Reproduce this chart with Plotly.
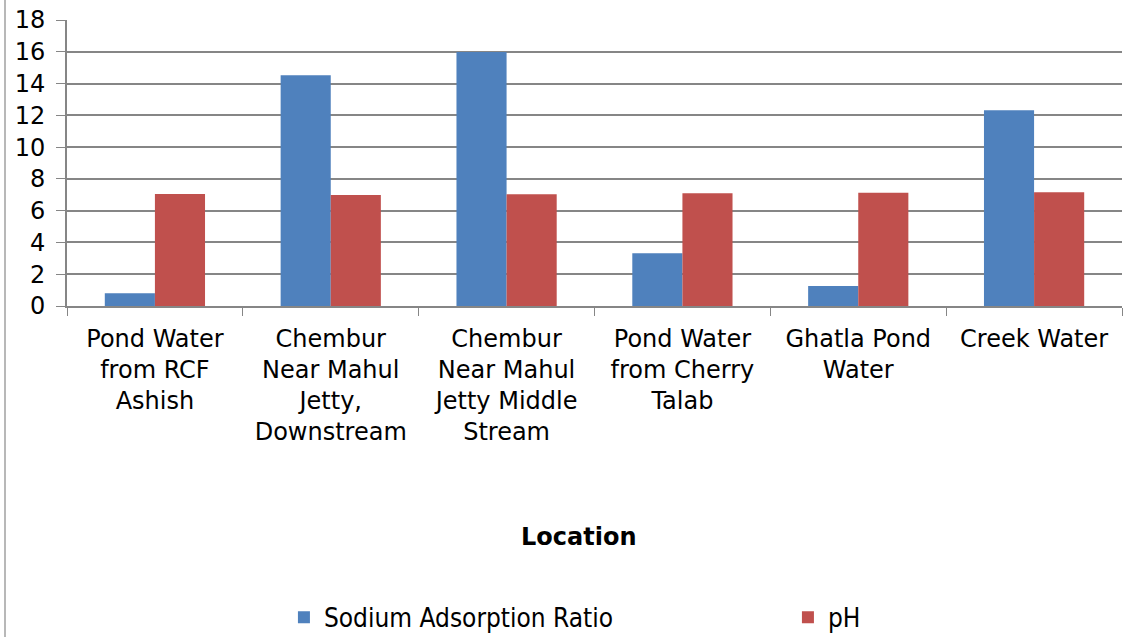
import plotly.graph_objects as go

categories = [
    "Pond Water<br>from RCF<br>Ashish",
    "Chembur<br>Near Mahul<br>Jetty,<br>Downstream",
    "Chembur<br>Near Mahul<br>Jetty Middle<br>Stream",
    "Pond Water<br>from Cherry<br>Talab",
    "Ghatla Pond<br>Water",
    "Creek Water",
]
sar_values = [0.8, 14.52, 15.98, 3.32, 1.26, 12.32]
ph_values = [7.05, 6.99, 7.03, 7.09, 7.13, 7.16]
y_ticks = [0, 2, 4, 6, 8, 10, 12, 14, 16, 18]

FONT = "Verdana, DejaVu Sans, sans-serif"
LEGEND_FONT = "DejaVu Sans Condensed, Liberation Sans Narrow, DejaVu Sans, sans-serif"
GRID = "#868686"

fig = go.Figure()
fig.add_trace(go.Bar(x=categories, y=sar_values, name="Sodium Adsorption Ratio",
                     marker=dict(color="#4F81BD", line=dict(width=0))))
fig.add_trace(go.Bar(x=categories, y=ph_values, name="pH",
                     marker=dict(color="#C0504D", line=dict(width=0))))

fig.update_layout(
    width=1133, height=637,
    margin=dict(l=67, r=11, t=20, b=331, autoexpand=False),
    paper_bgcolor="white", plot_bgcolor="white",
    font=dict(family=FONT, size=24, color="black"),
    barmode="group", bargap=0.43, bargroupgap=0,
    showlegend=True,
    legend=dict(orientation="h", xref="container", yref="container",
                x=0.2506, y=0.031, xanchor="left", yanchor="middle",
                font=dict(family=LEGEND_FONT, size=26, color="black"),
                entrywidth=459, entrywidthmode="pixels",
                itemwidth=30, bgcolor="rgba(0,0,0,0)"),
    xaxis=dict(type="category", tickson="boundaries", ticks="outside", ticklen=8,
               tickcolor=GRID, showline=True, linecolor=GRID, linewidth=2,
               showgrid=False, tickfont=dict(size=24, family=FONT), tickangle=0,
               ticklabelstandoff=10, automargin=False),
    yaxis=dict(range=[0, 18], tickvals=y_ticks, ticks="outside", ticklen=9,
               tickcolor=GRID, showline=True, linecolor=GRID, linewidth=2,
               showgrid=True, gridcolor=GRID, gridwidth=2, zeroline=False,
               tickfont=dict(size=24, family=FONT), ticklabelstandoff=6,
               automargin=False),
    annotations=[dict(text="<b>Location</b>", xref="paper", yref="paper",
                      x=0.4844, y=-231 / 286, xanchor="center", yanchor="middle",
                      showarrow=False, font=dict(family=FONT, size=24, color="black"))],
    shapes=[dict(type="line", xref="paper", yref="paper", x0=-62 / 1055, x1=-62 / 1055,
                 y0=-331 / 286, y1=1 + 20 / 286, line=dict(color="#A0A0A0", width=1.5))],
)

fig.write_html("out.html", config={"displayModeBar": False},
               post_script="document.body.style.margin='0';document.body.style.overflow='hidden';")
